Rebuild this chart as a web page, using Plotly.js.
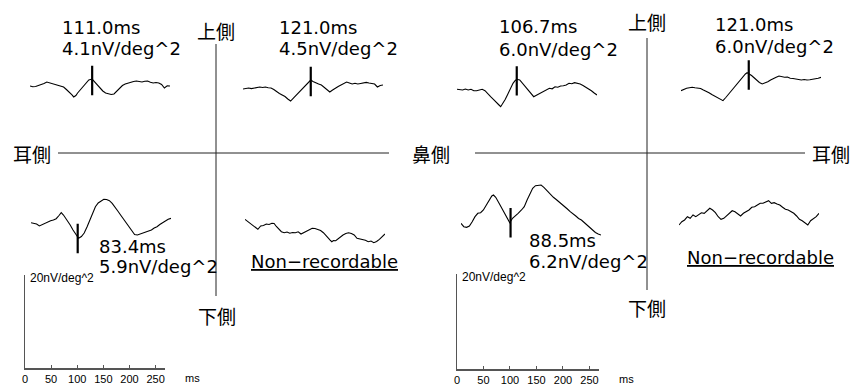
<!DOCTYPE html>
<html><head><meta charset="utf-8">
<script src="https://cdn.plot.ly/plotly-3.0.1.min.js"></script>
<style>html,body{margin:0;padding:0;background:#fff;}#chart{width:853px;height:387px;}</style>
</head><body><div id="chart"></div>
<script>
// ---------------- data (ms / nV/deg^2) ----------------
// left eye, upper temporal
const t1 = [0,5,10,15,20,25,30,35,40,45,50,55,60,65,70,75,78,82,85,90,95,100,105,111,115,120,125,130,135,140,145,150,155,160,165,170,175,180,185,190,195,200,205,210,215,220,225,230,235,240,245,250];
const v1 = [0,-0.17,-0.1,0.1,0.21,0.53,0.84,0.67,0.63,0.38,0.21,0.1,-0.21,-0.74,-1.26,-1.89,-2.31,-2.0,-1.47,-0.74,0,0.63,1.26,1.47,0.95,0.21,-0.42,-1.05,-1.47,-1.68,-1.79,-1.68,-1.05,-0.42,0.1,0.42,0.63,0.84,0.95,1.05,0.88,0.84,1.0,1.05,0.78,0.63,0.74,0.63,0.32,-0.42,0.04,0];
// left eye, upper nasal
const t2 = [0,5,10,15,20,25,30,35,40,45,50,55,60,65,70,75,80,85,90,95,100,105,110,115,121,125,130,135,140,145,150,155,160,165,170,175,180,185,190,195,200,205,210,215,220,225,230,235,240,245,250];
const v2 = [-0.21,-0.11,0,-0.13,0,0.17,0.21,0.11,0.21,0.04,0,-0.32,-0.84,-1.16,-1.47,-1.79,-2.32,-2.74,-2.11,-1.47,-0.95,-0.42,0.32,1.05,1.68,1.37,1.05,0.84,0.63,0.11,-0.42,-0.84,-0.42,0,0.32,0.63,0.95,1.26,1.05,0.84,1.01,0.84,0.95,1.05,1.18,1.05,0.95,0.84,0.21,0.53,0.63];
// left eye, lower temporal
const t3 = [0,5,10,15,20,25,30,35,40,45,50,54,58,62,66,70,75,80,85,90,95,100,105,110,115,120,125,130,135,140,145,150,155,160,165,170,175,180,185,190,195,200,205,210,215,220,225,230,235,240,245,250];
const v3 = [0.06,-0.11,-0.21,-0.63,-0.32,0,0.21,0.48,0.63,0.91,1.58,2.17,1.68,1.05,0.42,-0.42,-1.47,-2.42,-3.22,-2.84,-2.11,-0.84,0.63,2.11,3.43,4.21,4.69,4.99,4.95,4.69,4.11,3.43,2.53,1.68,0.84,-0.06,-0.95,-1.83,-2.42,-2.53,-2.32,-2.11,-1.83,-1.68,-1.47,-1.05,-0.78,-0.32,0.06,0.32,0.78,0.99];
// left eye, lower nasal (non-recordable)
const t4 = [0,5,10,15,20,23,28,33,38,43,48,52,56,60,65,70,75,80,85,90,95,100,105,110,115,120,125,130,135,140,144,148,152,155,158,162,165,170,175,180,185,190,195,200,205,210,215,220,225,230,235,240,245,250];
const v4 = [2.25,1.79,1.41,1.05,0.57,0.15,0.84,0.95,1.26,1.16,1.41,1.37,0.74,0.15,-0.36,-0.57,-0.42,-0.69,-0.53,-0.57,-0.38,-0.84,-0.53,-0.15,0.21,0.36,0.32,0.15,-0.11,-0.57,-1.16,-1.75,-2.11,-2.46,-2.21,-2.25,-1.96,-1.47,-1.05,-0.74,-0.57,-0.74,-1.05,-1.75,-1.85,-2.11,-2.15,-2.46,-2.32,-2.67,-2.42,-1.96,-1.47,-0.84];
// right eye, upper nasal
const t5 = [0,5,10,15,20,25,30,35,40,45,50,55,60,65,70,75,78,82,86,90,95,100,104,107,112,116,120,125,130,134,137,141,145,150,155,160,165,170,175,180,185,190,195,200,205,210,215,220,225,230,235,240,245,250];
const v5 = [0.15,0.04,0,0.21,0,0.15,-0.15,-0.15,0,0.15,-0.15,-0.84,-1.41,-1.96,-2.67,-3.16,-3.52,-2.84,-2.0,-1.05,0.15,1.41,2.0,2.25,2.11,1.58,1.05,0.32,-0.36,-0.95,-1.41,-1.16,-0.91,-0.42,-0.15,0.04,0.36,0.25,0.69,0.59,0.84,0.88,1.05,1.41,1.31,1.54,1.43,1.26,0.95,0.57,0.32,-0.15,-0.63,-1.05];
// right eye, upper temporal
const t6 = [0,5,10,15,20,25,30,35,40,45,50,55,60,65,70,75,80,85,90,95,100,105,110,115,118,122,126,130,135,140,145,150,155,160,165,170,175,180,185,190,195,200,205,210,215,220,225,230,235,240,245,250];
const v6 = [-0.57,-0.25,-0.06,0.04,0.15,0.04,-0.06,-0.11,-0.42,-0.63,-0.99,-1.37,-1.68,-2.06,-2.38,-2.67,-2.0,-1.26,-0.53,0.15,0.95,1.68,2.42,2.95,3.22,2.95,2.63,2.21,1.68,1.16,0.84,1.05,1.33,1.68,2.04,2.25,2.53,2.36,2.25,2.32,2.04,2.0,1.89,1.79,1.68,1.79,1.68,1.75,1.83,1.89,2.04,2.25];
// right eye, lower nasal
const t7 = [0,5,10,15,20,25,30,35,40,45,50,55,58,62,68,75,82,87,92,97,102,108,113,118,123,128,133,138,143,148,155,160,165,170,175,180,185,190,195,200,205,210,215,220,225,230,235,240,245,250];
const v7 = [-0.06,-0.78,-0.91,-0.63,0.27,1.33,2.04,2.17,2.74,3.79,4.84,5.68,5.89,5.41,4.15,2.74,1.33,0.06,0.99,1.47,2.04,2.74,3.43,4.84,6.25,7.31,7.85,8.0,8.0,7.52,6.59,6.0,5.41,4.95,4.48,3.89,3.43,2.95,2.38,2.0,1.47,0.95,0.63,0.11,-0.42,-0.95,-1.47,-2.0,-2.32,-2.53];
// right eye, lower temporal (non-recordable)
const t8 = [0,5,10,15,20,25,30,35,40,45,50,55,60,65,70,75,80,85,90,95,100,105,110,115,120,125,130,135,140,145,150,155,160,165,170,175,180,185,190,195,200,205,210,215,220,225,230,235,240,245,250];
const v8 = [-2.53,-1.83,-1.47,-0.78,-1.12,-0.42,-0.78,-0.42,0.06,-0.06,0.48,0.99,0.63,0.06,-0.78,-1.33,-1.12,-0.63,-0.06,0.48,0.27,-0.21,-0.63,-0.06,0.27,0.63,1.2,1.33,1.68,2.04,2.04,2.38,2.59,2.04,2.17,1.89,1.68,1.2,0.78,0.63,0.27,-0.06,-0.63,-1.33,-1.62,-2.17,-2.53,-1.62,-1.12,-0.78,-0.06];

// measured peaks of recordable responses (waves 1,2,3,5,6,7)
const latencies  = [111.0, 121.0, 83.4, 106.7, 121.0, 88.5];
const amplitudes = [4.1, 4.5, 5.9, 6.0, 6.0, 6.2];
const markedWave = [0, 1, 2, 4, 5, 6];
const nonRecWave = [3, 7];
const nonRecText = 'Non−recordable';
const scaleTicks = [0, 50, 100, 150, 200, 250];
const scaleTickText = ['0', '50', '100', '150', '200', '250'];
const scaleUnitX = 'ms';
const scaleUnitY = '20nV/deg^2';
const sideUpper = '上側', sideLower = '下側', sideTemporal = '耳側', sideNasal = '鼻側';

// ---------------- layout geometry (pixels) ----------------
const W = 853, H = 387;
const PX_PER_MS = 0.56, PX_PER_NV = 4.75, HALF = 10;
const boxes = [[30,86],[243,88],[31,223],[245,230],[457,90],[681,88],[461,223],[679,213]];
const labelPos = [[60,27,49],[277,27,49],[97,246.7,266.7],[497,26.7,49.3],[713,24,46.7],[527,240.7,261.7]];
const nonRecPos = [[249,261],[685,257.5]];
const scaleBoxes = [[25,165,275,368],[457,599,274,369]];
const px2x = p => p / W, py2y = p => 1 - p / H;

const waves = [[t1,v1],[t2,v2],[t3,v3],[t4,v4],[t5,v5],[t6,v6],[t7,v7],[t8,v8]];
const traces = [];
const layout = {
  width: W, height: H, margin: {l:0, r:0, t:0, b:0},
  paper_bgcolor: '#fff', plot_bgcolor: 'rgba(0,0,0,0)', showlegend: false,
  font: {family: '"Liberation Sans", Arial, sans-serif', color: '#000'},
  shapes: [], annotations: []
};
function interp(t, v, x) {
  for (let i = 1; i < t.length; i++) {
    if (x <= t[i]) { const f = (x - t[i-1]) / (t[i] - t[i-1]); return v[i-1] + f * (v[i] - v[i-1]); }
  }
  return v[v.length - 1];
}
waves.forEach(([t, v], i) => {
  const n = i + 1, s = n === 1 ? '' : String(n);
  const [x0, b] = boxes[i];
  layout['xaxis' + s] = {domain: [px2x(x0), px2x(x0 + 250 * PX_PER_MS)], range: [0, 250], visible: false, fixedrange: true, anchor: 'y' + s};
  layout['yaxis' + s] = {domain: [py2y(b + HALF * PX_PER_NV), py2y(b - HALF * PX_PER_NV)], range: [-HALF, HALF], visible: false, fixedrange: true, anchor: 'x' + s};
  traces.push({x: t, y: v, xaxis: 'x' + s, yaxis: 'y' + s, mode: 'lines', line: {color: '#000', width: 1.1}, hoverinfo: 'skip'});
});
const valFont = {family: '"DejaVu Sans", sans-serif', size: 18, color: '#000'};
markedWave.forEach((wi, j) => {
  const n = wi + 1, s = n === 1 ? '' : String(n);
  const [t, v] = waves[wi];
  const lat = latencies[j];
  const c = interp(t, v, lat) - 0.3;
  traces.push({x: [lat, lat], y: [c - 3.1, c + 3.1], xaxis: 'x' + s, yaxis: 'y' + s, mode: 'lines', line: {color: '#000', width: 2.2}, hoverinfo: 'skip'});
  const [lx, ly1, ly2] = labelPos[j];
  layout.annotations.push({xref: 'paper', yref: 'paper', x: px2x(lx), y: py2y(ly1), xanchor: 'left', yanchor: 'middle', showarrow: false, text: lat.toFixed(1) + 'ms', font: valFont});
  layout.annotations.push({xref: 'paper', yref: 'paper', x: px2x(lx), y: py2y(ly2), xanchor: 'left', yanchor: 'middle', showarrow: false, text: amplitudes[j].toFixed(1) + 'nV/deg^2', font: valFont});
});
nonRecWave.forEach((wi, j) => {
  const [lx, ly] = nonRecPos[j];
  layout.annotations.push({xref: 'paper', yref: 'paper', x: px2x(lx), y: py2y(ly), xanchor: 'left', yanchor: 'middle', showarrow: false, text: '<u>' + nonRecText + '</u>', font: valFont});
});
scaleBoxes.forEach((bx, k) => {
  const n = 9 + k, s = String(n);
  layout['xaxis' + s] = {domain: [px2x(bx[0]), px2x(bx[1])], range: [0, 268], anchor: 'y' + s, showline: true, linecolor: '#555', linewidth: 1.5,
    ticks: 'inside', ticklen: 3, tickcolor: '#555', tickwidth: 1, tickvals: scaleTicks, ticktext: scaleTickText, tickfont: {size: 11, color: '#000'},
    showgrid: false, zeroline: false, fixedrange: true};
  layout['yaxis' + s] = {domain: [py2y(bx[3]), py2y(bx[2])], range: [0, 20], anchor: 'x' + s, showline: true, linecolor: '#555', linewidth: 1.5,
    ticks: '', showticklabels: false, showgrid: false, zeroline: false, fixedrange: true};
  traces.push({x: [], y: [], xaxis: 'x' + s, yaxis: 'y' + s, mode: 'lines', hoverinfo: 'skip'});
  layout.annotations.push({xref: 'paper', yref: 'paper', x: px2x(bx[0] + 3), y: py2y(bx[2] + 3), xanchor: 'left', yanchor: 'middle', showarrow: false, text: scaleUnitY, font: {size: 12}});
  layout.annotations.push({xref: 'paper', yref: 'paper', x: px2x(bx[1] + 18), y: py2y(bx[3] + 10), xanchor: 'left', yanchor: 'middle', showarrow: false, text: scaleUnitX, font: {size: 11}});
});
// cross axes and orientation labels
const crosses = [
  {h: [58, 389, 153], v: [216, 44, 296], up: [216, 30], down: [217, 315], left: [32, 153, sideTemporal], right: [431, 153, sideNasal]},
  {h: [475, 805, 153], v: [647, 38, 290], up: [647, 22], down: [647, 307], left: null, right: [831, 153, sideTemporal]}
];
const cjk = {family: '"Noto Sans CJK JP", "Noto Sans CJK SC", sans-serif', size: 19, color: '#000'};
crosses.forEach((c, k) => {
  layout.shapes.push({type: 'line', xref: 'paper', yref: 'paper', x0: px2x(c.h[0]), x1: px2x(c.h[1]), y0: py2y(c.h[2]), y1: py2y(c.h[2]), line: {color: '#222', width: 1}});
  layout.shapes.push({type: 'line', xref: 'paper', yref: 'paper', x0: px2x(c.v[0]), x1: px2x(c.v[0]), y0: py2y(c.v[1]), y1: py2y(c.v[2]), line: {color: '#222', width: 1}});
  const lab = (p, txt) => layout.annotations.push({xref: 'paper', yref: 'paper', x: px2x(p[0]), y: py2y(p[1]), xanchor: 'center', yanchor: 'middle', showarrow: false, text: txt, font: cjk});
  lab(c.up, sideUpper); lab(c.down, sideLower);
  if (c.left) lab(c.left, c.left[2]);
  lab(c.right, c.right[2]);
});

Plotly.newPlot('chart', traces, layout, {staticPlot: true, displayModeBar: false});
</script>
</body></html>
